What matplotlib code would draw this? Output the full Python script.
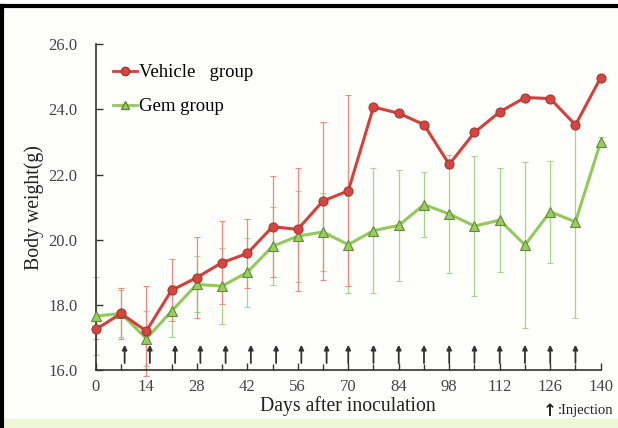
import matplotlib
matplotlib.use("Agg")
from matplotlib import pyplot as plt
from matplotlib.lines import Line2D

plt.rcParams["font.family"] = ["Liberation Serif", "DejaVu Serif"]

days = [0, 7, 14, 21, 28, 35, 42, 49, 56, 63, 70, 77, 84, 91, 98, 105, 112, 119, 126, 133, 140]

vehicle = [17.25, 17.74, 17.2, 18.45, 18.84, 19.3, 19.58, 20.4, 20.32, 21.19, 21.5,
           24.07, 23.88, 23.53, 22.31, 23.29, 23.92, 24.36, 24.33, 23.52, 24.97]
vehicle_err = [0.3, 0.78, 1.38, 0.95, 1.24, 1.27, 1.05, 1.55, 1.88, 2.41, 2.93,
               0.0, 0.0, 0.0, 0.1, 0.0, 0.0, 0.0, 0.0, 0.0, 0.0]

gem = [17.66, 17.74, 16.97, 17.81, 18.63, 18.58, 19.0, 19.8, 20.11, 20.24, 19.85,
       20.28, 20.44, 21.08, 20.79, 20.42, 20.6, 19.84, 20.86, 20.55, 23.0]
gem_err = [1.2, 0.72, 0.84, 0.79, 0.86, 1.17, 1.05, 1.2, 1.4, 1.2, 1.48,
           1.91, 1.7, 1.0, 1.8, 2.15, 1.6, 2.55, 1.56, 2.95, 0.15]

injection_days = [8, 15, 22, 29, 36, 43, 50, 57, 64, 70, 77, 84, 91, 98, 105, 112, 119, 126, 133]

x_ticks = [0, 14, 28, 42, 56, 70, 84, 98, 112, 126, 140]
y_ticks = [16.0, 18.0, 20.0, 22.0, 24.0, 26.0]

red = "#d5403a"
green = "#93c95c"

fig = plt.figure(figsize=(6.18, 4.28), dpi=100)
fig.patch.set_facecolor("#fefefb")
ax = fig.add_axes([0.155, 0.135, 0.817, 0.762])
ax.set_facecolor("none")

# error bars first, then lines
ax.errorbar(days, gem, yerr=gem_err, fmt="none", ecolor="#a6d68a", elinewidth=0.9,
            capsize=2, capthick=0.8, zorder=2, clip_on=False)
ax.errorbar(days, vehicle, yerr=vehicle_err, fmt="none", ecolor="#ec8a84", elinewidth=0.9,
            capsize=2, capthick=0.8, zorder=2, clip_on=False)

ax.plot(days, gem, color=green, linewidth=2.2, marker="^", markersize=6.5,
        markerfacecolor="#9acd5f", markeredgecolor="#5f8a3a", markeredgewidth=0.8,
        zorder=3, clip_on=False)
ax.plot(days, vehicle, color=red, linewidth=2.2, marker="o", markersize=6.5,
        markerfacecolor="#d44640", markeredgecolor="#a83530", markeredgewidth=0.8,
        zorder=4, clip_on=False)

# injection arrows
for d in injection_days:
    ax.annotate("", xy=(d, 16.78), xytext=(d, 16.22),
                arrowprops=dict(arrowstyle="-|>", color="#333333", lw=1.3,
                                mutation_scale=7, shrinkA=0, shrinkB=0))

ax.set_xlim(0, 140)
ax.set_ylim(16, 26)
ax.set_xticks(x_ticks)
ax.set_xticks(days, minor=True)
ax.set_yticks(y_ticks)
ax.set_yticklabels([f"{v:.1f}" for v in y_ticks])
ax.tick_params(axis="both", direction="in", length=5, width=1, colors="#333333",
               labelcolor="#444444", labelsize=12)
ax.tick_params(axis="x", which="minor", direction="in", length=4, width=1, colors="#333333")
ax.tick_params(axis="x", pad=6)
ax.tick_params(axis="y", pad=13)

for side in ["top", "right"]:
    ax.spines[side].set_visible(False)
for side in ["left", "bottom"]:
    ax.spines[side].set_color("#333333")
    ax.spines[side].set_linewidth(1.2)

ax.set_xlabel("Days after inoculation", fontsize=14.2, color="#222222", labelpad=1)
ax.set_ylabel("Body weight(g)", fontsize=14.2, color="#222222", labelpad=3)

handles = [
    Line2D([], [], color=red, linewidth=2, marker="o", markersize=6,
           markerfacecolor="#d44640", markeredgecolor="#a83530"),
    Line2D([], [], color=green, linewidth=2, marker="^", markersize=6,
           markerfacecolor="#9acd5f", markeredgecolor="#5f8a3a"),
]
ax.legend(handles, ["Vehicle   group", "Gem group"], loc="upper left",
          bbox_to_anchor=(0.0, 0.99), frameon=False, fontsize=13.5,
          handlelength=1.3, handletextpad=0.1, labelspacing=0.9, borderaxespad=0.5)

fig.text(0.878, 0.04, "\u2191", fontsize=12, fontweight="bold", color="#222222",
         ha="left", va="center", family=["DejaVu Sans"])
fig.text(0.902, 0.04, ":Injection", fontsize=10.5, color="#222222", ha="left", va="center")

# frame and bottom strip of the original figure
fig.add_artist(Line2D([0.004, 0.004], [0.0, 0.985], color="black", linewidth=3,
                      transform=fig.transFigure))
fig.add_artist(Line2D([0.0, 1.0], [0.985, 0.985], color="black", linewidth=3,
                      transform=fig.transFigure))
fig.add_artist(plt.Rectangle((0.008, 0.0), 0.992, 0.022, color="#eef6d6",
                             transform=fig.transFigure, zorder=-1))

fig.savefig("out.png", dpi=100, facecolor=fig.get_facecolor())
